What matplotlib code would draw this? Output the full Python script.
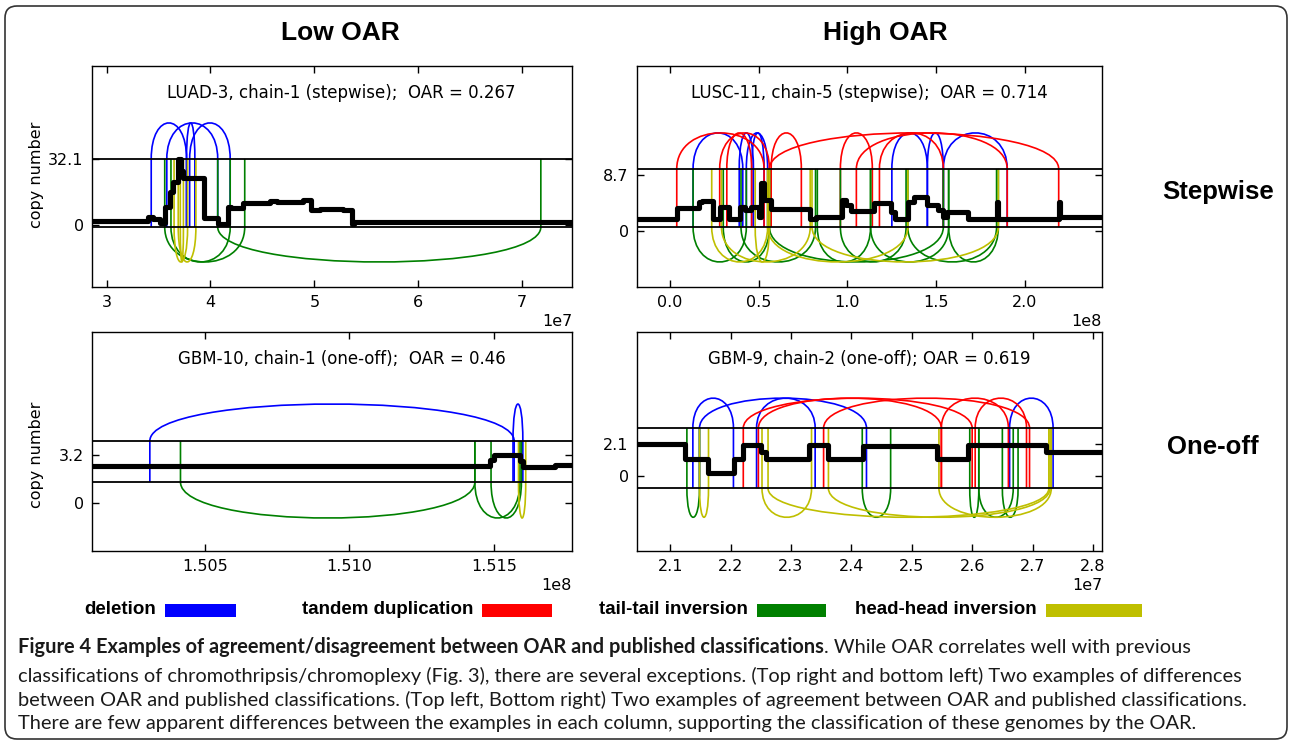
import numpy as np
import matplotlib
matplotlib.use('Agg')
import matplotlib.pyplot as plt
from matplotlib.path import Path
from matplotlib.patches import PathPatch, FancyBboxPatch, Rectangle
from matplotlib.ticker import ScalarFormatter

# colours of the four kinds of rearrangement
sv_colors = {'del': (0, 0, 1), 'dup': (1, 0, 0), 'tt': (0, 0.5, 0), 'hh': (0.75, 0.75, 0)}
sv_names = {'del': 'deletion', 'dup': 'tandem duplication',
            'tt': 'tail-tail inversion', 'hh': 'head-head inversion'}

# ---- LUAD-3, chain-1 (positions in 1e7 bp)
tl_pos = [2.86, 3.40, 3.45, 3.51, 3.56, 3.61, 3.64, 3.69, 3.72, 3.74, 3.935, 4.07, 4.17,
          4.20, 4.31, 4.57, 4.64, 4.89, 4.97, 5.05, 5.28, 5.36, 5.38, 7.48]
tl_cn = [1.9, 4.0, 3.0, 1.1, 8.9, 16.0, 21.0, 32.1, 26.0, 22.7, 3.2, 0.5, 8.9,
         8.1, 10.5, 11.8, 11.3, 12.1, 7.3, 7.6, 7.3, 0.3, 1.6]
tl_del = [(3.43, 3.77), (3.58, 4.07), (3.80, 4.19), (3.77, 3.85)]
tl_dup = []
tl_tt = [(3.56, 4.33), (3.62, 4.19), (4.07, 7.18)]
tl_hh = [(3.65, 3.78), (3.69, 3.86), (3.71, 3.74)]

# ---- LUSC-11, chain-5 (positions in 1e8 bp)
tr_pos = [-0.186, 0.038, 0.163, 0.181, 0.240, 0.282, 0.332, 0.394, 0.422, 0.458, 0.502,
          0.515, 0.529, 0.568, 0.788, 0.824, 0.967, 0.994, 1.02, 1.15, 1.245, 1.27, 1.34,
          1.377, 1.446, 1.51, 1.54, 1.56, 1.68, 1.84, 1.85, 2.19, 2.20, 2.434]
tr_cn = [1.8, 3.5, 4.5, 4.7, 1.8, 3.7, 1.8, 3.7, 3.3, 3.7, 2.2, 7.4, 4.8, 3.4, 1.9, 2.2,
         4.8, 4.0, 3.1, 4.3, 3.0, 1.9, 4.55, 5.2, 4.0, 3.2, 2.2, 3.0, 1.9, 4.5, 1.9, 4.5, 2.1]
tr_del = [(0.13, 0.41), (0.39, 0.47), (0.43, 0.55), (0.46, 0.53), (1.25, 1.45),
          (1.45, 1.54), (1.54, 1.90)]
tr_dup = [(0.038, 0.53), (0.28, 0.56), (0.32, 0.46), (0.56, 2.19), (0.57, 0.74),
          (0.96, 1.14), (1.05, 1.90), (1.18, 1.54)]
tr_tt = [(0.13, 0.43), (0.30, 0.56), (0.40, 0.82), (0.56, 1.54), (0.83, 1.13),
         (0.96, 1.33), (1.13, 1.57), (1.34, 1.84), (1.57, 1.85)]
tr_hh = [(0.235, 0.55), (0.29, 0.79), (0.48, 0.56), (0.55, 1.34), (0.80, 1.85)]

# ---- GBM-10, chain-1 (positions in 1e8 bp)
bl_pos = [1.5011, 1.51486, 1.51500, 1.51590, 1.51600, 1.51711, 1.5177]
bl_cn = [2.47, 2.85, 3.2, 2.8, 2.4, 2.55]
bl_del = [(1.5031, 1.5157), (1.51566, 1.51600)]
bl_dup = []
bl_tt = [(1.50416, 1.51434), (1.51434, 1.51590), (1.51490, 1.51595)]
bl_hh = [(1.51585, 1.51610)]

# ---- GBM-9, chain-2 (positions in 1e7 bp)
br_pos = [2.045, 2.125, 2.163, 2.205, 2.221, 2.250, 2.258, 2.329, 2.362, 2.420, 2.541,
          2.593, 2.723, 2.815]
br_cn = [2.1, 1.15, 0.2, 1.15, 2.05, 1.6, 1.15, 2.05, 1.15, 1.97, 1.15, 2.05, 1.6]
br_del = [(2.1375, 2.2047), (2.1485, 2.425), (2.243, 2.340), (2.662, 2.734)]
br_dup = [(2.221, 2.600), (2.246, 2.549), (2.354, 2.695), (2.549, 2.660), (2.605, 2.690)]
br_tt = [(2.1276, 2.1485), (2.418, 2.465), (2.596, 2.611), (2.611, 2.668), (2.650, 2.676)]
br_hh = [(2.1485, 2.1634), (2.252, 2.334), (2.262, 2.727), (2.362, 2.729), (2.545, 2.731)]

panels = [
    dict(pos=tl_pos, cn=tl_cn, ev=[('del', tl_del), ('dup', tl_dup), ('tt', tl_tt), ('hh', tl_hh)],
         unit=1e7, xticks=[3, 4, 5, 6, 7], ymax_cn=32.1, ylim=(-30.2, 77.3), guides=(-1.0, 32.1),
         box=(92, 66, 572, 287), up_px=36, dn_px=35, note_x=0.52,
         note='LUAD-3, chain-1 (stepwise);  OAR = 0.267'),
    dict(pos=tr_pos, cn=tr_cn, ev=[('del', tr_del), ('dup', tr_dup), ('tt', tr_tt), ('hh', tr_hh)],
         unit=1e8, xticks=[0, 0.5, 1.0, 1.5, 2.0], ymax_cn=8.7, ylim=(-8.7, 25.6), guides=(0.62, 9.63),
         box=(637, 66, 1102, 287), up_px=36, dn_px=35, note_x=0.5,
         note='LUSC-11, chain-5 (stepwise);  OAR = 0.714'),
    dict(pos=bl_pos, cn=bl_cn, ev=[('del', bl_del), ('dup', bl_dup), ('tt', bl_tt), ('hh', bl_hh)],
         unit=1e8, xticks=[1.505, 1.510, 1.515], ymax_cn=3.2, ylim=(-3.2, 11.4), guides=(1.4, 4.13),
         box=(92, 332, 572, 551), up_px=37, dn_px=36, note_x=0.52,
         note='GBM-10, chain-1 (one-off);  OAR = 0.46'),
    dict(pos=br_pos, cn=br_cn, ev=[('del', br_del), ('dup', br_dup), ('tt', br_tt), ('hh', br_hh)],
         unit=1e7, xticks=[2.1, 2.2, 2.3, 2.4, 2.5, 2.6, 2.7, 2.8], ymax_cn=2.1, ylim=(-4.9, 9.45),
         guides=(-0.79, 3.15), box=(637, 332, 1102, 551), up_px=30, dn_px=29, note_x=0.5,
         note='GBM-9, chain-2 (one-off); OAR = 0.619'),
]

W, H = 1293, 744
fig = plt.figure(figsize=(W / 100, H / 100), dpi=100)


def fig_box(l, t, r, b):
    return [l / W, 1 - b / H, (r - l) / W, (b - t) / H]


for p in panels:
    ax = fig.add_axes(fig_box(*p['box']))
    unit = p['unit']
    lo, hi = p['guides']
    y0, y1 = p['ylim']
    per_px = (y1 - y0) / (p['box'][3] - p['box'][1])

    # every rearrangement: legs between the guides, then a loop beyond them
    for kind, pairs in p['ev']:
        up = kind in ('del', 'dup')
        for a, b in pairs:
            if up:
                base, top, h = lo, hi, p['up_px'] * per_px / 0.75
            else:
                base, top, h = hi, lo, -p['dn_px'] * per_px / 0.75
            xa, xb = a * unit, b * unit
            verts = [(xa, base), (xa, top), (xa, top + h), (xb, top + h), (xb, top), (xb, base)]
            codes = [Path.MOVETO, Path.LINETO, Path.CURVE4, Path.CURVE4, Path.CURVE4, Path.LINETO]
            ax.add_patch(PathPatch(Path(verts, codes), fill=False, edgecolor=sv_colors[kind],
                                   lw=1.2, zorder=2))

    ax.axhline(lo, color='k', lw=1.3, zorder=3)
    ax.axhline(hi, color='k', lw=1.3, zorder=3)

    x = np.array(p['pos']) * unit
    y = np.append(p['cn'], p['cn'][-1])
    ax.plot(x, y, drawstyle='steps-post', color='k', lw=3.7, zorder=4)

    ax.set_xlim(p['pos'][0] * unit, p['pos'][-1] * unit)
    ax.set_ylim(y0, y1)
    ax.set_xticks(np.array(p['xticks']) * unit)
    fmt = ScalarFormatter(useOffset=False)
    fmt.set_scientific(True)
    fmt.set_powerlimits((0, 0))
    ax.xaxis.set_major_formatter(fmt)
    ax.set_yticks([0, p['ymax_cn']])
    ax.set_yticklabels(['0', '%g' % p['ymax_cn']])
    ax.tick_params(direction='in', top=True, right=True, length=5, width=1,
                   labelsize=11.5, pad=6)
    ax.xaxis.get_offset_text().set_fontsize(11.5)
    for s in ax.spines.values():
        s.set_linewidth(1.0)
    ax.text(p['note_x'], 0.877, p['note'], transform=ax.transAxes, ha='center', va='center',
            fontsize=12)

# column / row headings
head = dict(family='Liberation Sans', weight='bold', ha='center', va='center')
fig.text(340 / W, 1 - 33 / H, 'Low OAR', fontsize=19, **head)
fig.text(885 / W, 1 - 33 / H, 'High OAR', fontsize=19, **head)
fig.text(1218 / W, 1 - 192 / H, 'Stepwise', fontsize=18.5, **head)
fig.text(1213 / W, 1 - 447 / H, 'One-off', fontsize=18.5, **head)
fig.text(37 / W, 1 - 175 / H, 'copy number', rotation=90, ha='center', va='center', fontsize=11.5)
fig.text(37 / W, 1 - 455 / H, 'copy number', rotation=90, ha='center', va='center', fontsize=11.5)

# legend row
legend_rects = {'del': (165, 236), 'dup': (482, 552), 'tt': (757, 826), 'hh': (1046, 1142)}
for kind in ['del', 'dup', 'tt', 'hh']:
    l, r = legend_rects[kind]
    fig.add_artist(Rectangle((l / W, 1 - 617 / H), (r - l) / W, 13 / H,
                             transform=fig.transFigure, color=sv_colors[kind], lw=0))
    fig.text((l - 9) / W, 1 - 610 / H, sv_names[kind], ha='right', va='center',
             family='Liberation Sans', weight='bold', fontsize=13.5)

# caption
cap_font = 'Lato'
bold_part = 'Figure 4 Examples of agreement/disagreement between OAR and published classifications'
rest = [
    '. While OAR correlates well with previous',
    'classifications of chromothripsis/chromoplexy (Fig. 3), there are several exceptions. '
    '(Top right and bottom left) Two examples of differences',
    'between OAR and published classifications. (Top left, Bottom right) Two examples of '
    'agreement between OAR and published classifications.',
    'There are few apparent differences between the examples in each column, supporting '
    'the classification of these genomes by the OAR.',
]
line_y = [647, 676, 700, 724]
renderer = fig.canvas.get_renderer()

# size the caption so that its third line spans the same width as in the figure
probe = fig.text(0, 0, rest[2], family=cap_font, fontsize=10)
cap_size = 10 * (1252 - 18) / probe.get_window_extent(renderer=renderer).width
probe.remove()

t = fig.text(18 / W, 1 - line_y[0] / H, bold_part, family=cap_font, weight='bold',
             fontsize=cap_size, va='center', color='#1a1a1a')
bb = t.get_window_extent(renderer=renderer)
fig.text(bb.x1 / W, 1 - line_y[0] / H, rest[0], family=cap_font, fontsize=cap_size,
         va='center', color='#1a1a1a')
for txt, yy in zip(rest[1:], line_y[1:]):
    fig.text(18 / W, 1 - yy / H, txt, family=cap_font, fontsize=cap_size, va='center',
             color='#1a1a1a')

# rounded frame round the whole figure
frame = FancyBboxPatch((5 / 100, 5 / 100), 1282 / 100, 733 / 100,
                       boxstyle='round,pad=0,rounding_size=0.12',
                       transform=fig.dpi_scale_trans, fill=False, edgecolor='#333333', lw=1.2)
fig.patches.append(frame)

fig.savefig('out.png', dpi=100)
